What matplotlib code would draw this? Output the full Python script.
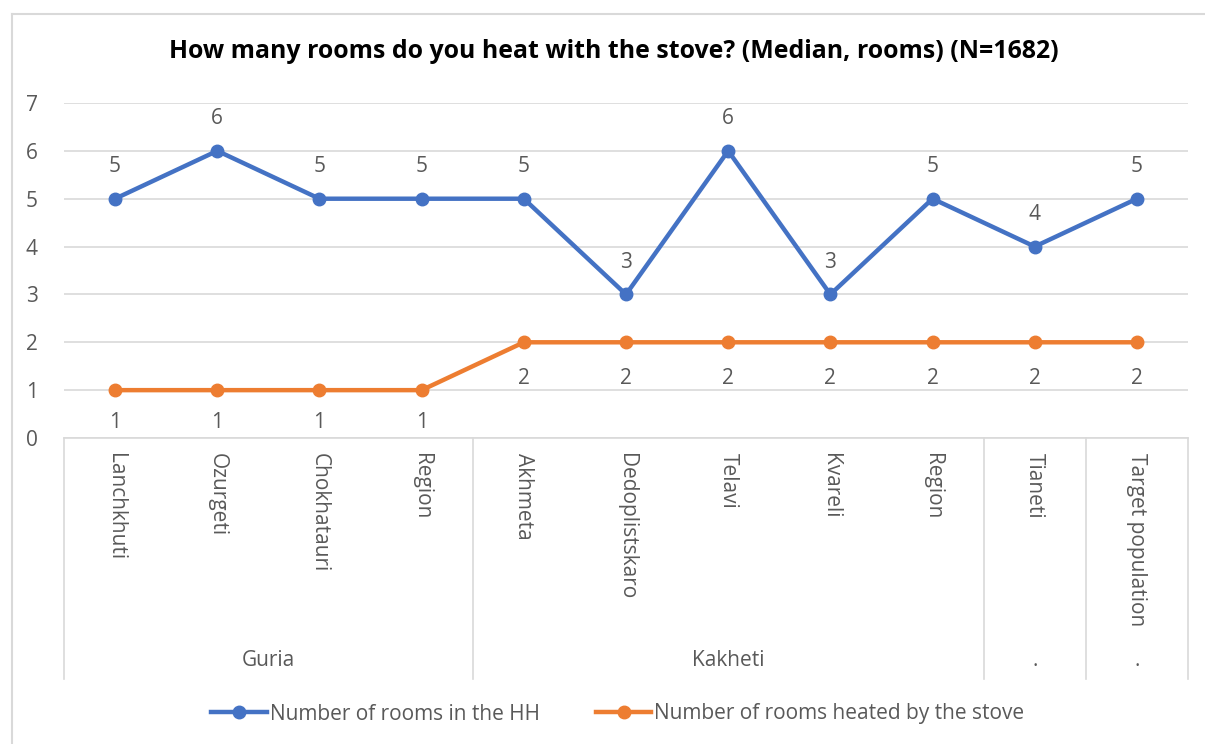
import matplotlib
matplotlib.use("Agg")
import matplotlib.pyplot as plt
from matplotlib.lines import Line2D

plt.rcParams['font.family'] = ['Open Sans', 'DejaVu Sans']

categories = ["Lanchkhuti", "Ozurgeti", "Chokhatauri", "Region",
              "Akhmeta", "Dedoplistskaro", "Telavi", "Kvareli", "Region",
              "Tianeti", "Target population"]
groups = ["Guria", "Kakheti", ".", "."]
group_sizes = [4, 5, 1, 1]
rooms_total = [5, 6, 5, 5, 5, 3, 6, 3, 5, 4, 5]
rooms_heated = [1, 1, 1, 1, 2, 2, 2, 2, 2, 2, 2]
series_names = ["Number of rooms in the HH", "Number of rooms heated by the stove"]
title = "How many rooms do you heat with the stove? (Median, rooms) (N=1682)"

W, H = 1205, 744
fig = plt.figure(figsize=(W / 100, H / 100), dpi=100)

def fx(px):
    return px / W

def fy(py):
    return 1 - py / H

left, right, top, bottom = 64, 1188, 103, 438
ax = fig.add_axes([fx(left), fy(bottom), fx(right - left), fy(top) - fy(bottom)])

blue = "#4472C4"
orange = "#ED7D31"
grey_txt = "#595959"
grid_c = "#D9D9D9"
fs = 15

x = list(range(len(categories)))
ax.plot(x, rooms_total, color=blue, lw=3.2, marker='o', ms=9, zorder=3,
        solid_capstyle='round')
ax.plot(x, rooms_heated, color=orange, lw=3.2, marker='o', ms=9, zorder=3,
        solid_capstyle='round')

for xi, v in zip(x, rooms_total):
    ax.annotate(str(v), (xi, v), xytext=(0, 23), textcoords='offset points',
                ha='center', va='center', fontsize=fs, color=grey_txt)
for xi, v in zip(x, rooms_heated):
    off = -23 if v == 1 else -26
    ax.annotate(str(v), (xi, v), xytext=(0, off), textcoords='offset points',
                ha='center', va='center', fontsize=fs, color=grey_txt)

ax.set_xlim(-0.5, len(categories) - 0.5)
ax.set_ylim(0, 7)
ax.set_yticks(range(0, 8))
ax.tick_params(axis='y', length=0, labelsize=fs, labelcolor=grey_txt, pad=19)
ax.set_xticks([])
ax.grid(axis='y', color=grid_c, lw=1.2)
ax.set_axisbelow(True)
for s in ['top', 'right', 'left']:
    ax.spines[s].set_visible(False)
ax.spines['bottom'].set_color(grid_c)
ax.spines['bottom'].set_linewidth(1.2)

# category labels (rotated)
cw = (right - left) / len(categories)
for i, c in enumerate(categories):
    cx = left + cw * (i + 0.5)
    fig.text(fx(cx), fy(453), c, rotation=270, ha='center', va='top',
             fontsize=fs, color=grey_txt)

# group separators and labels
line_bottom = 679
pos = 0
bounds = [0]
for g in group_sizes:
    pos += g
    bounds.append(pos)
for b in bounds:
    bx = left + cw * b
    fig.add_artist(Line2D([fx(bx), fx(bx)], [fy(bottom), fy(line_bottom)],
                          color=grid_c, lw=1.2))
for gi, g in enumerate(groups):
    gx = left + cw * (bounds[gi] + bounds[gi + 1]) / 2
    fig.text(fx(gx), fy(661), g, ha='center', va='center', fontsize=fs,
             color=grey_txt)

# title
fig.text(fx(614), fy(52), title, ha='center', va='center', fontsize=17.9,
         fontweight='bold', color='black')

# legend
handles = [Line2D([], [], color=blue, lw=3.2, marker='o', ms=9),
           Line2D([], [], color=orange, lw=3.2, marker='o', ms=9)]
fig.legend(handles, series_names, loc='center', bbox_to_anchor=(fx(618), fy(714)),
           ncol=2, frameon=False, fontsize=fs, labelcolor=grey_txt,
           handlelength=2.65, handletextpad=0.15, columnspacing=2.7)

# chart frame
fig.add_artist(Line2D([fx(12), fx(12)], [fy(14), 0], color=grid_c, lw=1.5))
fig.add_artist(Line2D([fx(12), 1], [fy(14), fy(14)], color=grid_c, lw=1.5))

fig.savefig("out.png", dpi=100)
